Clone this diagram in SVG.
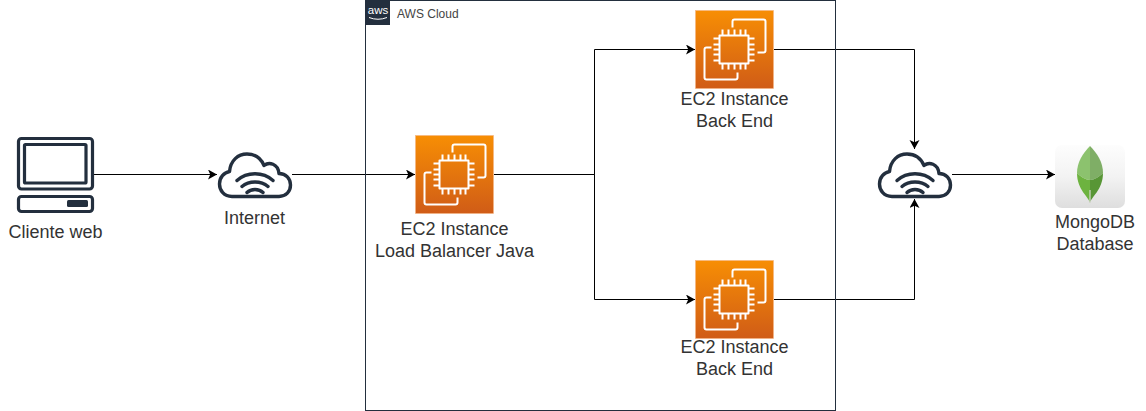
<svg xmlns="http://www.w3.org/2000/svg" width="1146" height="411" viewBox="0 0 1146 411">
<style>
.lbl{font-family:"Liberation Sans",Arial,sans-serif;font-size:18px;fill:#333;text-anchor:middle}
.cn{fill:none;stroke:#000;stroke-width:1}
.ink{fill:none;stroke:#232f3e;stroke-width:3.4;stroke-linejoin:round;stroke-linecap:round}
.w{fill:none;stroke:#fff;stroke-width:2;stroke-linejoin:round}
.sq{fill:none;stroke:#232f3e;stroke-width:3.2}
</style>
<defs>
<marker id="arrow" markerUnits="userSpaceOnUse" markerWidth="11" markerHeight="11" refX="9" refY="5" orient="auto"><path d="M0 0L9 5L0 10L2.250 5Z" fill="#000"/></marker>
<linearGradient id="orange" x1="0" y1="0" x2="0" y2="1"><stop offset="0" stop-color="#f78e04"/><stop offset="1" stop-color="#d05c17"/></linearGradient>
<linearGradient id="tile" x1="0" y1="0" x2="0" y2="1"><stop offset="0" stop-color="#fdfdfd"/><stop offset=".5" stop-color="#f3f3f3"/><stop offset="1" stop-color="#dedede"/></linearGradient>
<g id="ec2">
<rect width="78" height="78" fill="url(#orange)" stroke="#f6b582" stroke-width=".6"/>
<path class="w" d="M37 17V11Q37 9 39 9H68Q70 9 70 11V40Q70 42 68 42H62"/>
<path class="w" d="M16 37H11Q9 37 9 39V67Q9 69 11 69H40Q42 69 42 67V62"/>
<rect class="w" x="24" y="25" width="29" height="28"/>
<path class="w" d="M27 19V25M33 19V25M39 19V25M45 19V25M50 19V25M27 53V59M33 53V59M39 53V59M45 53V59M50 53V59M18 28H24M18 34H24M18 39H24M18 44H24M18 50H24M53 28H59M53 34H59M53 39H59M53 44H59M53 50H59"/>
</g>
<g id="cloud">
<path class="ink" d="M14 44C6 44 1.500 38 1.500 31.500C1.500 25 6 20 11.500 19C12.500 8 20 1.500 29 1.500C37 1.500 43 6 46 13C51 9 60 11 61 21C68 21 72.500 26 72.500 32.500C72.500 39 68 44 61 44Z"/>
<path class="ink" stroke-width="3" d="M19 28C29 19 45 19 55 28M24 34C31 28 43 28 50 34M29 40C33 36 41 36 45 40"/>
</g>
</defs>
<rect width="1146" height="411" fill="#fff"/>
<g id="connectors">
<path class="cn" marker-end="url(#arrow)" d="M94 174.500H217"/>
<path class="cn" marker-end="url(#arrow)" d="M292 174.500H415"/>
<path class="cn" marker-end="url(#arrow)" d="M494 174.500H594.500V49.500H695"/>
<path class="cn" marker-end="url(#arrow)" d="M494 174.500H594.500V299.500H695"/>
<path class="cn" marker-end="url(#arrow)" d="M774 49.500H914.500V149"/>
<path class="cn" marker-end="url(#arrow)" d="M774 299.500H914.500V199"/>
<path class="cn" marker-end="url(#arrow)" d="M952 174.500H1055"/>
</g>
<g id="aws-cloud">
<rect x="365.500" y=".5" width="470" height="410" fill="none" stroke="#232f3e" stroke-width="1"/>
<rect x="365" y="0" width="25" height="25" fill="#232f3e"/>
<text x="378" y="14" style="font-family:'Liberation Sans',Arial,sans-serif;font-size:11.500px;fill:#fff;text-anchor:middle">aws</text>
<path d="M369 17.500Q378 21 387 17.500" fill="none" stroke="#fff" stroke-width="1"/>
<text x="397" y="18" style="font-family:'Liberation Sans',Arial,sans-serif;font-size:12px;fill:#444">AWS Cloud</text>
</g>
<g id="client">
<rect class="sq" x="18.500" y="138.500" width="74" height="50.500" rx="3"/>
<rect class="sq" x="24.500" y="144.500" width="61.500" height="38.500" rx="1"/>
<rect class="sq" x="18.500" y="196.500" width="74" height="15" rx="3"/>
<rect x="67" y="200" width="21" height="7" rx="1.500" fill="#232f3e"/>
<text class="lbl" x="55.500" y="238">Cliente web</text>
</g>
<g id="internet"><use href="#cloud" x="218" y="152.500"/><text class="lbl" x="254.500" y="224">Internet</text></g>
<g id="lb"><use href="#ec2" x="415.500" y="135.500"/><text class="lbl" x="454.500" y="235">EC2 Instance</text><text class="lbl" x="454.500" y="257">Load Balancer Java</text></g>
<g id="backend1"><use href="#ec2" x="695.500" y="10.500"/><text class="lbl" x="734.500" y="105">EC2 Instance</text><text class="lbl" x="734.500" y="127">Back End</text></g>
<g id="backend2"><use href="#ec2" x="695.500" y="260.500"/><text class="lbl" x="734.500" y="353">EC2 Instance</text><text class="lbl" x="734.500" y="375">Back End</text></g>
<g id="gateway"><use href="#cloud" x="878" y="152.500"/></g>
<g id="mongodb">
<rect x="1055" y="145" width="70" height="63" rx="7" fill="url(#tile)"/>
<path d="M1090 146C1083 153 1077 162 1077 173C1081 177 1086 180 1090 180Z" fill="#8cc26e"/>
<path d="M1090 146C1097 153 1103 162 1103 173C1099 177 1094 180 1090 180Z" fill="#7fae66"/>
<path d="M1077 173C1081 177 1086 180 1090 180V203C1089 197 1077 190 1077 173Z" fill="#6db33f"/>
<path d="M1103 173C1099 177 1094 180 1090 180V203C1091 197 1103 190 1103 173Z" fill="#589636"/>
<path d="M1090 190V203" stroke="#d5d8cf" stroke-width="1.200"/>
<text class="lbl" x="1095" y="228">MongoDB</text><text class="lbl" x="1095" y="250">Database</text>
</g>
</svg>
